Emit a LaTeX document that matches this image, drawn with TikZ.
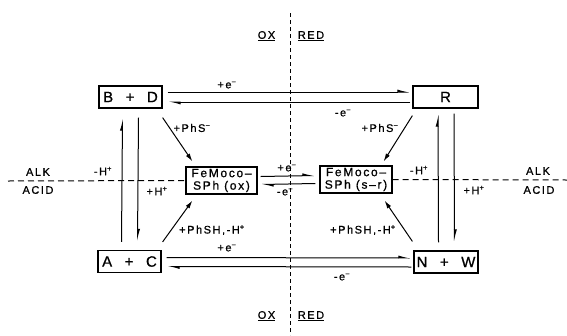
\documentclass[tikz,border=0pt]{standalone}
\usepackage{fontspec}
\setmainfont{Liberation Sans}[LetterSpace=14,FakeBold=0.8]
\usetikzlibrary{arrows.meta,calc}
\tikzset{
  every picture/.style={line width=1pt},
  box/.style={draw,rectangle,line width=1.2pt,fill=white,inner sep=0pt,minimum height=22pt,font=\fontsize{15}{16}\selectfont},
  sbox/.style={draw,rectangle,line width=1.2pt,fill=white,inner sep=0pt,minimum width=71pt,minimum height=27pt,align=center,font=\fontsize{12}{12.5}\selectfont},
  lbl/.style={font=\fontsize{11}{12}\selectfont,inner sep=0pt},
  eq/.style={-{Latex[harpoon,length=10pt,width=5pt]}},
  flow/.style={-{Latex[length=8pt,width=4.5pt]}},
  hdash/.style={dash pattern=on 6pt off 4pt,line width=1pt},
  vdash/.style={dash pattern=on 4pt off 3pt,line width=0.9pt},
}
\newcommand{\emin}{e\textsuperscript{−}}
\newcommand{\hplus}{H\textsuperscript{+}}
\begin{document}
\begin{tikzpicture}[x=1pt,y=-1pt]
\useasboundingbox (0,0) rectangle (567,335);
% ox / red and alk / acid divides
\coordinate (topV) at (290,13);
\coordinate (botV) at (290,335);
\coordinate (leftH) at (8,181);
\coordinate (rightH) at (567,180);
\draw[vdash] (topV) -- (botV);
\node[lbl] (oxT) at (266.5,36) {\underline{OX}};
\node[lbl] (redT) at (311,36) {\underline{RED}};
\node[lbl] (oxB) at (266.5,316) {\underline{OX}};
\node[lbl] (redB) at (311,316) {\underline{RED}};
\node[lbl] (alkL) at (38,172) {ALK};
\node[lbl] (acidL) at (38,190) {ACID};
\node[lbl] (alkR) at (538,171) {ALK};
\node[lbl] (acidR) at (539,190) {ACID};
% species
\node[box,minimum width=63pt] (bd) at (130.5,97) {B \ + \ D};
\node[box,minimum width=65pt] (r) at (445.5,97) {R};
\node[box,minimum width=63pt] (ac) at (129.5,261.5) {A \ + \ C};
\node[box,minimum width=64pt] (nw) at (446,262) {N \ + \ W};
\node[sbox] (fox) at (221.5,180.5) {FeMoco--\\SPh (ox)};
\node[sbox,minimum width=72pt] (fsr) at (356,179.5) {FeMoco--\\SPh (s--r)};
\draw[hdash] (leftH) -- (fox.west);
\draw[hdash] (fsr.east) -- (rightH);
% electron transfer
\draw[eq] ([xshift=5pt,yshift=5pt]bd.east) -- ([xshift=-2pt,yshift=5pt]r.west);
\draw[eq] ([xshift=-2pt,yshift=-5pt]r.west) -- ([xshift=5pt,yshift=-5pt]bd.east);
\node[lbl] (eTop1) at (227,85) {+\emin};
\node[lbl] (eTop2) at (343,113) {-\emin};
\draw[eq] ([xshift=5pt,yshift=4pt]ac.east) -- ([xshift=-2pt,yshift=4pt]nw.west);
\draw[eq] ([xshift=-2pt,yshift=-5pt]nw.west) -- ([xshift=5pt,yshift=-5pt]ac.east);
\node[lbl] (eBot1) at (227,248) {+\emin};
\node[lbl] (eBot2) at (342,277) {-\emin};
\draw[eq] ([xshift=3pt,yshift=4pt]fox.east) -- ([xshift=-4pt,yshift=4pt]fsr.west);
\draw[eq] ([xshift=-4pt,yshift=-4pt]fsr.west) -- ([xshift=3pt,yshift=-4pt]fox.east);
\node[lbl] (eMid1) at (287,168) {+\emin};
\node[lbl] (eMid2) at (285,192) {-\emin};
% proton transfer
\draw[eq] ([xshift=-8pt,yshift=8pt]ac.north) -- ([xshift=-8pt,yshift=-9pt]bd.south);
\draw[eq] ([xshift=8pt,yshift=-9pt]bd.south) -- ([xshift=8pt,yshift=8pt]ac.north);
\node[lbl] (hL1) at (103,171) {-\hplus};
\node[lbl] (hL2) at (157,191) {+\hplus};
\draw[eq] ([xshift=-7.5pt,yshift=8pt]nw.north) -- ([xshift=-7.5pt,yshift=-5pt]r.south);
\draw[eq] ([xshift=8.5pt,yshift=-5pt]r.south) -- ([xshift=8.5pt,yshift=8pt]nw.north);
\node[lbl] (hR1) at (419,170) {-\hplus};
\node[lbl] (hR2) at (474,190) {+\hplus};
% thiolate binding
\draw[flow] ($(bd.south east)+(0,9)$) -- ($(fox.north west)+(7,-5)$);
\node[lbl] (psL) at (192,128) {+PhS\textsuperscript{−}};
\draw[flow] ($(ac.north east)+(1,-8)$) -- ($(fox.south west)+(7,6)$);
\node[lbl] (pshL) at (212,230) {+PhSH,-\hplus};
\draw[flow] ($(r.south west)+(0,7)$) -- ($(fsr.north east)+(-9,-4)$);
\node[lbl] (psR) at (380,128) {+PhS\textsuperscript{−}};
\draw[flow] ($(nw.north west)+(-1,-9)$) -- ($(fsr.south east)+(-8,7)$);
\node[lbl] (pshR) at (363,230) {+PhSH,-\hplus};
\end{tikzpicture}
\end{document}
